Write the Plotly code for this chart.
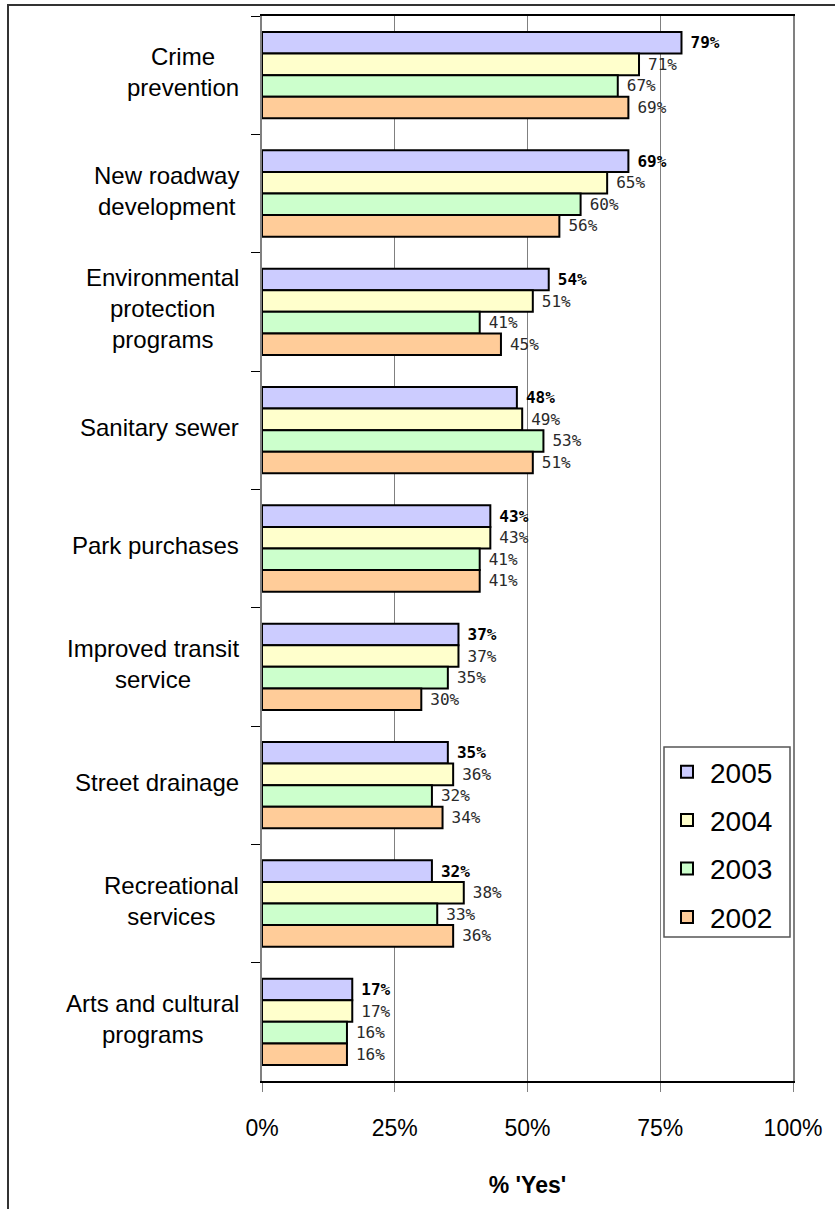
import plotly.graph_objects as go

categories = [
    "Crime<br>prevention",
    "New roadway<br>development",
    "Environmental<br>protection<br>programs",
    "Sanitary sewer",
    "Park purchases",
    "Improved transit<br>service",
    "Street drainage",
    "Recreational<br>services",
    "Arts and cultural<br>programs",
]
years = ["2005", "2004", "2003", "2002"]
values_2005 = [79, 69, 54, 48, 43, 37, 35, 32, 17]
values_2004 = [71, 65, 51, 49, 43, 37, 36, 38, 17]
values_2003 = [67, 60, 41, 53, 41, 35, 32, 33, 16]
values_2002 = [69, 56, 45, 51, 41, 30, 34, 36, 16]
series = [values_2005, values_2004, values_2003, values_2002]
colors = ["#CCCCFF", "#FFFFCC", "#CCFFCC", "#FFCC99"]
x_ticks = [0, 25, 50, 75, 100]
x_tick_labels = ["0%", "25%", "50%", "75%", "100%"]

W, H = 835, 1209
ML, MR, MT, MB = 262, 42, 16, 128
PW, PH = W - ML - MR, H - MT - MB

fig = go.Figure()
for i, (yr, vals, col) in enumerate(zip(years, series, colors)):
    bold = i == 0
    fig.add_trace(go.Bar(
        y=categories, x=vals, name=yr, orientation="h",
        marker=dict(color=col, line=dict(color="black", width=2)),
        text=vals,
        texttemplate="<span style='font-size:10px'> </span>%{text}%",
        textposition="outside",
        constraintext="none", cliponaxis=False,
        textfont=dict(family="DejaVu Sans Mono", size=16,
                      color="#000000" if bold else "#2a2a2a",
                      weight="bold" if bold else "normal"),
        legendgroup=yr, hoverinfo="x+y",
    ))

annotations = []
for c in categories:
    annotations.append(dict(
        x=0, xref="paper", y=c, yref="y", xanchor="right", yanchor="middle",
        xshift=-21, yshift=3, text=c, showarrow=False, align="center",
        font=dict(family="Liberation Sans", size=24, color="black"),
    ))

def px_x(p):
    return (p - ML) / PW

def px_y(p):
    return 1 - (p - MT) / PH

fig.update_layout(
    width=W, height=H,
    margin=dict(l=ML, r=MR, t=MT, b=MB),
    paper_bgcolor="white", plot_bgcolor="white",
    barmode="group", bargap=0.27, bargroupgap=0,
    font=dict(family="Liberation Sans", color="black"),
    annotations=annotations,
    showlegend=True,
    legend=dict(
        x=px_x(664), y=px_y(747), xanchor="left", yanchor="top",
        font=dict(family="Liberation Sans", size=28, color="black"),
        bgcolor="rgba(0,0,0,0)", borderwidth=0,
        tracegroupgap=9, traceorder="grouped", itemwidth=36,
    ),
    shapes=[
        dict(
            type="rect", xref="paper", yref="paper",
            x0=px_x(8), x1=px_x(845), y0=px_y(1220), y1=px_y(5),
            line=dict(color="#333333", width=2), fillcolor="rgba(0,0,0,0)",
            layer="below",
        ),
        dict(
            type="rect", xref="paper", yref="paper",
            x0=px_x(664), x1=px_x(790), y0=px_y(937), y1=px_y(747),
            line=dict(color="#555555", width=1.5), fillcolor="white",
            layer="above",
        ),
    ],
)
fig.update_xaxes(
    range=[0, 100], tickmode="array", tickvals=x_ticks, ticktext=x_tick_labels,
    showgrid=True, gridcolor="#808080", gridwidth=1,
    showline=True, linecolor="black", linewidth=1.5, mirror=True,
    ticks="outside", ticklen=9, tickcolor="#808080",
    tickfont=dict(family="Liberation Sans", size=23, color="black"),
    ticklabelstandoff=17, zeroline=False,
    title=dict(text="% 'Yes'", standoff=37,
               font=dict(family="Liberation Sans", size=23, color="black", weight="bold")),
)
fig.update_yaxes(
    autorange="reversed", showticklabels=False,
    tickson="boundaries", ticks="outside", ticklen=9, tickcolor="black",
    showline=True, linecolor="#808080", linewidth=1.5, mirror=True,
    showgrid=False, zeroline=False,
)

fig.write_html(
    "out.html",
    config={"displayModeBar": False},
    post_script="document.body.style.margin='0';document.body.style.padding='0';",
)
